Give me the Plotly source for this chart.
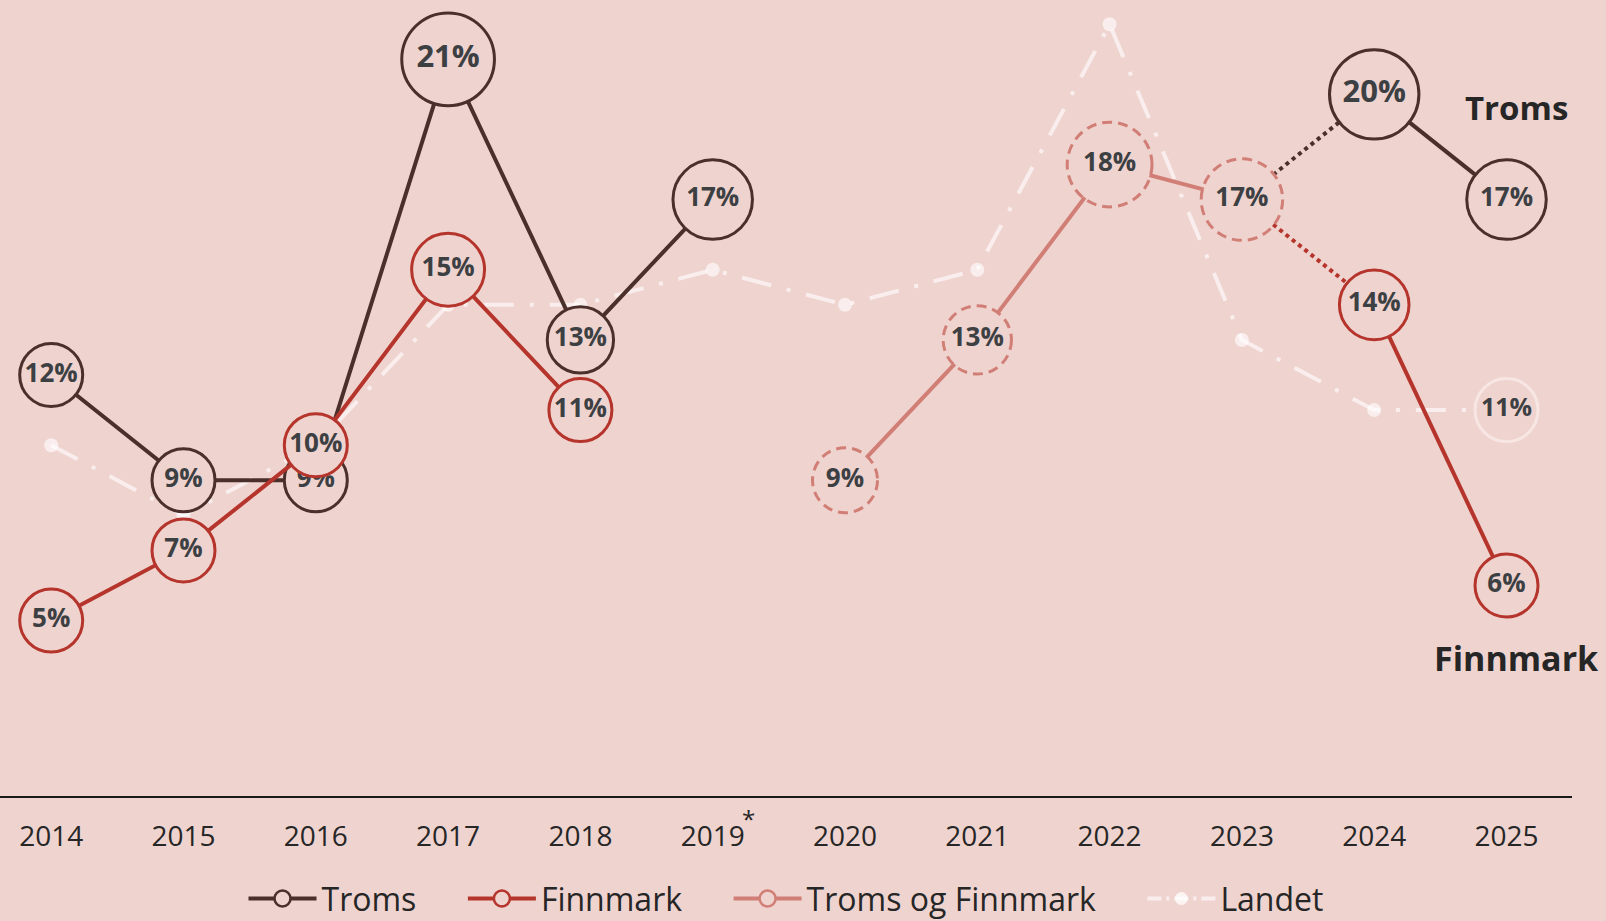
import plotly.graph_objects as go

# Data (percent)
years = list(range(2014, 2026))
troms = [12, 9, 9, 21, 13, 17, None, None, None, None, 20, 17]
finnmark = [5, 7, 10, 15, 11, None, None, None, None, None, 14, 6]
troms_finnmark = [None, None, None, None, None, None, 9, 13, 18, 17, None, None]
landet = [10, 8, 10, 14, 14, 15, 14, 15, 22, 13, 11, 11]

BG = '#efd3cf'
C_TROMS = '#4b2f2a'
C_FINN = '#b5342b'
C_TF = '#d17f76'
C_LAND = 'rgba(255,255,255,0.62)'
C_TEXT = '#3d4043'
FONT = 'Open Sans'


def bubble_size(v):
    return 63 + max(0, v - 12) * 3.3


def label_size(v):
    return 31 if v >= 20 else 26


def labels(vals):
    return [f'{v}%' if v is not None else '' for v in vals]


def sizes(vals):
    return [bubble_size(v) if v is not None else 0 for v in vals]


def fsizes(vals):
    return [label_size(v) if v is not None else 10 for v in vals]


fig = go.Figure()

# Landet (bottom layer), only last point labelled
n = len(landet)
fig.add_trace(go.Scatter(
    x=years, y=landet, mode='lines+markers+text',
    line=dict(color=C_LAND, width=4, dash='30px,16px,4px,16px'),
    marker=dict(
        size=[14] * (n - 1) + [bubble_size(landet[-1])],
        color=[C_LAND] * (n - 1) + [BG],
        opacity=1,
        line=dict(color=[BG] * (n - 1) + ['#f7e6e3'], width=[0] * (n - 1) + [3]),
    ),
    text=[''] * (n - 1) + [f'{landet[-1]}%'],
    textposition='middle center',
    textfont=dict(family=FONT, size=25, color=C_TEXT, weight='bold'),
    showlegend=False, hoverinfo='skip',
))

# dotted connectors from the merged county in 2023 to the split counties in 2024
fig.add_trace(go.Scatter(
    x=[years[9], years[10]], y=[troms_finnmark[9], troms[10]], mode='lines',
    line=dict(color=C_TROMS, width=4, dash='dot'), showlegend=False, hoverinfo='skip',
))
fig.add_trace(go.Scatter(
    x=[years[9], years[10]], y=[troms_finnmark[9], finnmark[10]], mode='lines',
    line=dict(color=C_FINN, width=4, dash='dot'), showlegend=False, hoverinfo='skip',
))

# Troms og Finnmark: filled bubbles, dashed outline drawn as shapes
fig.add_trace(go.Scatter(
    x=years, y=troms_finnmark, mode='lines+markers+text',
    line=dict(color=C_TF, width=4),
    marker=dict(size=sizes(troms_finnmark), color=BG, opacity=1, line=dict(width=0)),
    text=labels(troms_finnmark), textposition='middle center',
    textfont=dict(family=FONT, size=fsizes(troms_finnmark), color=C_TEXT, weight='bold'),
    showlegend=False, hoverinfo='skip',
))

for name, vals, col in [('Troms', troms, C_TROMS), ('Finnmark', finnmark, C_FINN)]:
    fig.add_trace(go.Scatter(
        x=years, y=vals, mode='lines+markers+text',
        line=dict(color=col, width=4),
        marker=dict(size=sizes(vals), color=BG, opacity=1, line=dict(color=col, width=3)),
        text=labels(vals), textposition='middle center',
        textfont=dict(family=FONT, size=fsizes(vals), color=C_TEXT, weight='bold'),
        showlegend=False, hoverinfo='skip',
    ))

for yr, v in zip(years, troms_finnmark):
    if v is None:
        continue
    r = bubble_size(v) / 2 + 1
    fig.add_shape(
        type='circle', xref='x', yref='y', xsizemode='pixel', ysizemode='pixel',
        xanchor=yr, yanchor=v, x0=-r, x1=r, y0=-r, y1=r,
        line=dict(color=C_TF, width=3, dash='10px,6px'), layer='above',
    )

# legend entries (trailing spaces give the gaps between entries)
GAP = '\u00a0' * 5
for name, col in [('Troms', C_TROMS), ('Finnmark', C_FINN), ('Troms og Finnmark', C_TF)]:
    fig.add_trace(go.Scatter(
        x=[None], y=[None], mode='lines+markers', name=name + GAP,
        line=dict(color=col, width=4),
        marker=dict(size=16, color=BG, line=dict(color=col, width=2.5)),
    ))
fig.add_trace(go.Scatter(
    x=[None], y=[None], mode='lines+markers', name='Landet',
    line=dict(color=C_LAND, width=4, dash='14px,5px,3px,5px'),
    marker=dict(size=13, color='rgba(255,255,255,0.75)'),
))

# series names at the right
fig.add_annotation(x=years[-1], y=troms[-1], yshift=92, xshift=10, text='<b>Troms</b>',
                   showarrow=False, font=dict(family=FONT, size=33, color='#262626'))
fig.add_annotation(x=years[-1], y=finnmark[-1], yshift=-72, xshift=10, text='<b>Finnmark</b>',
                   showarrow=False, font=dict(family=FONT, size=34, color='#262626'))
fig.add_annotation(x=2019, y=0, xref='x', yref='y', xshift=36, yshift=-22, text='*',
                   showarrow=False, font=dict(family=FONT, size=24, color='#262626'))

fig.update_layout(
    width=1606, height=921,
    paper_bgcolor=BG, plot_bgcolor=BG,
    margin=dict(l=0, r=34, t=0, b=125, autoexpand=False),
    showlegend=True,
    legend=dict(orientation='h', x=0.5, xanchor='center', y=-0.129, yanchor='middle',
                font=dict(family=FONT, size=32, color='#262626'),
                bgcolor='rgba(0,0,0,0)', itemwidth=68),
)
fig.update_xaxes(
    range=[2013.613, 2025.495], tickmode='array', tickvals=years,
    ticktext=[str(y) for y in years], showgrid=False, zeroline=False,
    showline=True, linecolor='#1a1a1a', linewidth=2, ticks='',
    ticklabelstandoff=14,
    tickfont=dict(family=FONT, size=28, color='#262626'),
)
fig.update_yaxes(range=[0, 22.69], visible=False, showgrid=False, zeroline=False)

fig.write_html('out.html', config={'displayModeBar': False},
               post_script="document.body.style.margin='0';")
